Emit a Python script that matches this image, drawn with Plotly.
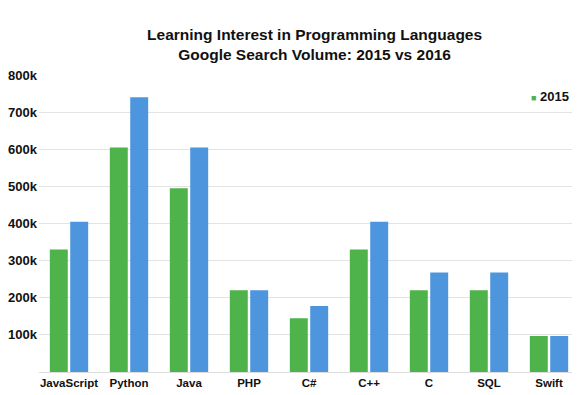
import plotly.graph_objects as go

languages = ["JavaScript", "Python", "Java", "PHP", "C#", "C++", "C", "SQL", "Swift"]
vol_2015 = [330000, 605000, 495000, 220000, 145000, 330000, 220000, 220000, 97000]
vol_2016 = [405000, 740000, 605000, 220000, 178000, 405000, 268000, 268000, 97000]
y_ticks = [100000, 200000, 300000, 400000, 500000, 600000, 700000, 800000]
y_tick_labels = ["100k", "200k", "300k", "400k", "500k", "600k", "700k", "800k"]

green = "#4db34a"
blue = "#4d96de"
font_family = "Liberation Sans, Arial, sans-serif"

fig = go.Figure()
fig.add_trace(go.Bar(x=languages, y=vol_2015, name="2015", showlegend=False,
                     marker=dict(color=green, line=dict(width=0))))
fig.add_trace(go.Bar(x=languages, y=vol_2016, name="2016", showlegend=False,
                     marker=dict(color=blue, line=dict(width=0))))

fig.add_annotation(
    text=f"<span style='color:{green}; font-size:9px'>■</span> <b>2015</b>",
    xref="paper", yref="paper", x=0.985, y=0.926, xanchor="right", yanchor="middle",
    showarrow=False, font=dict(size=13, family=font_family, color="#111111"),
)

fig.update_layout(
    width=572, height=387,
    margin=dict(l=31, r=1, t=67, b=23),
    paper_bgcolor="white", plot_bgcolor="white",
    barmode="group", bargap=0.32, bargroupgap=0.12,
    font=dict(family=font_family, color="#111111"),
    title=dict(
        text="<b>Learning Interest in Programming Languages<br>Google Search Volume: 2015 vs 2016</b>",
        x=0.536, xanchor="center", y=0.918, yanchor="top",
        font=dict(size=15.5, family=font_family, color="#111111"),
    ),
    showlegend=False,
)
fig.update_xaxes(showgrid=False, showline=True, linecolor="#dddddd", linewidth=1,
                 ticks="", tickfont=dict(size=11.5, family=font_family, color="#111111", weight="bold"))
fig.update_yaxes(range=[0, 800000], tickvals=y_ticks, ticktext=y_tick_labels,
                 showgrid=True, gridcolor="#e3e3e3", gridwidth=1, zeroline=False,
                 ticks="", ticklabelstandoff=1,
                 tickfont=dict(size=13, family=font_family, color="#111111", weight="bold"))

fig.write_html("out.html")
